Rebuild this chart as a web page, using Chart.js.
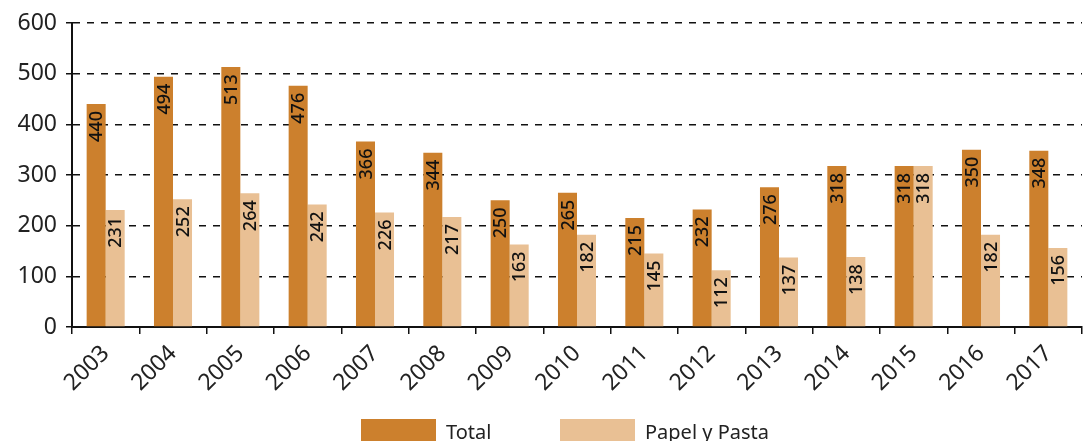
<!DOCTYPE html>
<html>
<head>
<meta charset="utf-8">
<script src="https://cdn.jsdelivr.net/npm/chart.js@4.4.1/dist/chart.umd.min.js"></script>
<style>
  html, body { margin: 0; padding: 0; background: #fff; }
  #wrap { width: 1083px; height: 441px; }
</style>
</head>
<body>
<div id="wrap"><canvas id="prodChart" width="1083" height="441"></canvas></div>
<script>
// Producción anual: total vs. papel y pasta
const years = ['2003', '2004', '2005', '2006', '2007', '2008', '2009', '2010',
               '2011', '2012', '2013', '2014', '2015', '2016', '2017'];
const totalValues = [440, 494, 513, 476, 366, 344, 250, 265, 215, 232, 276, 318, 318, 350, 348];
const papelValues = [231, 252, 264, 242, 226, 217, 163, 182, 145, 112, 137, 138, 318, 182, 156];
const yTicks = [0, 100, 200, 300, 400, 500, 600];

const FONT = '"Noto Sans", "Open Sans", sans-serif';
const ORANGE = '#CC802D';
const BEIGE = '#E9C094';

// values written vertically inside the top of each bar
const barValueLabels = {
    id: 'barValueLabels',
    afterDatasetsDraw(chart) {
        const ctx = chart.ctx;
        ctx.save();
        ctx.font = '500 18px ' + FONT;
        ctx.fillStyle = '#111';
        ctx.textAlign = 'right';
        ctx.textBaseline = 'middle';
        chart.data.datasets.forEach(function(ds, i) {
            chart.getDatasetMeta(i).data.forEach(function(bar, j) {
                ctx.save();
                ctx.translate(bar.x, bar.y + 7);
                ctx.rotate(-Math.PI / 2);
                ctx.fillText(String(ds.data[j]), 0, 1);
                ctx.restore();
            });
        });
        ctx.restore();
    }
};

// legend along the bottom edge
const bottomLegend = {
    id: 'bottomLegend',
    afterDraw(chart) {
        const ctx = chart.ctx;
        const startX = [361, 560];
        ctx.save();
        ctx.font = '20px ' + FONT;
        ctx.textBaseline = 'alphabetic';
        ctx.textAlign = 'left';
        chart.data.datasets.forEach(function(ds, i) {
            ctx.fillStyle = ds.backgroundColor;
            ctx.fillRect(startX[i], 419, 75, 24);
            ctx.fillStyle = '#222';
            ctx.fillText(ds.label, startX[i] + 85, 439);
        });
        ctx.restore();
    }
};

new Chart(document.getElementById('prodChart'), {
    type: 'bar',
    data: {
        labels: years,
        datasets: [
            { label: 'Total', data: totalValues, backgroundColor: ORANGE },
            { label: 'Papel y Pasta', data: papelValues, backgroundColor: BEIGE }
        ]
    },
    options: {
        responsive: false,
        animation: false,
        layout: { padding: { top: 23, right: 1, left: 0, bottom: 0 } },
        datasets: {
            bar: { categoryPercentage: 0.565, barPercentage: 1.0 }
        },
        scales: {
            x: {
                afterFit: function(scale) { scale.height = 114; },
                grid: {
                    offset: true,
                    drawOnChartArea: false,
                    drawTicks: true,
                    tickLength: 7,
                    color: '#111',
                    lineWidth: 1.5
                },
                border: { display: true, color: '#111', width: 2 },
                ticks: {
                    maxRotation: 45,
                    minRotation: 45,
                    padding: 6,
                    color: '#222',
                    font: { family: FONT, size: 23 }
                }
            },
            y: {
                min: 0,
                max: 600,
                afterFit: function(scale) { scale.width = 72; },
                afterBuildTicks: function(scale) {
                    scale.ticks = yTicks.map(function(v) { return { value: v }; });
                },
                grid: {
                    color: '#111',
                    lineWidth: 1.5,
                    tickLength: 6
                },
                border: { display: true, color: '#111', width: 2, dash: [7, 7] },
                ticks: {
                    padding: 9,
                    color: '#222',
                    font: { family: FONT, size: 23 }
                }
            }
        },
        plugins: {
            legend: { display: false },
            tooltip: { enabled: false }
        }
    },
    plugins: [barValueLabels, bottomLegend]
});
</script>
</body>
</html>
